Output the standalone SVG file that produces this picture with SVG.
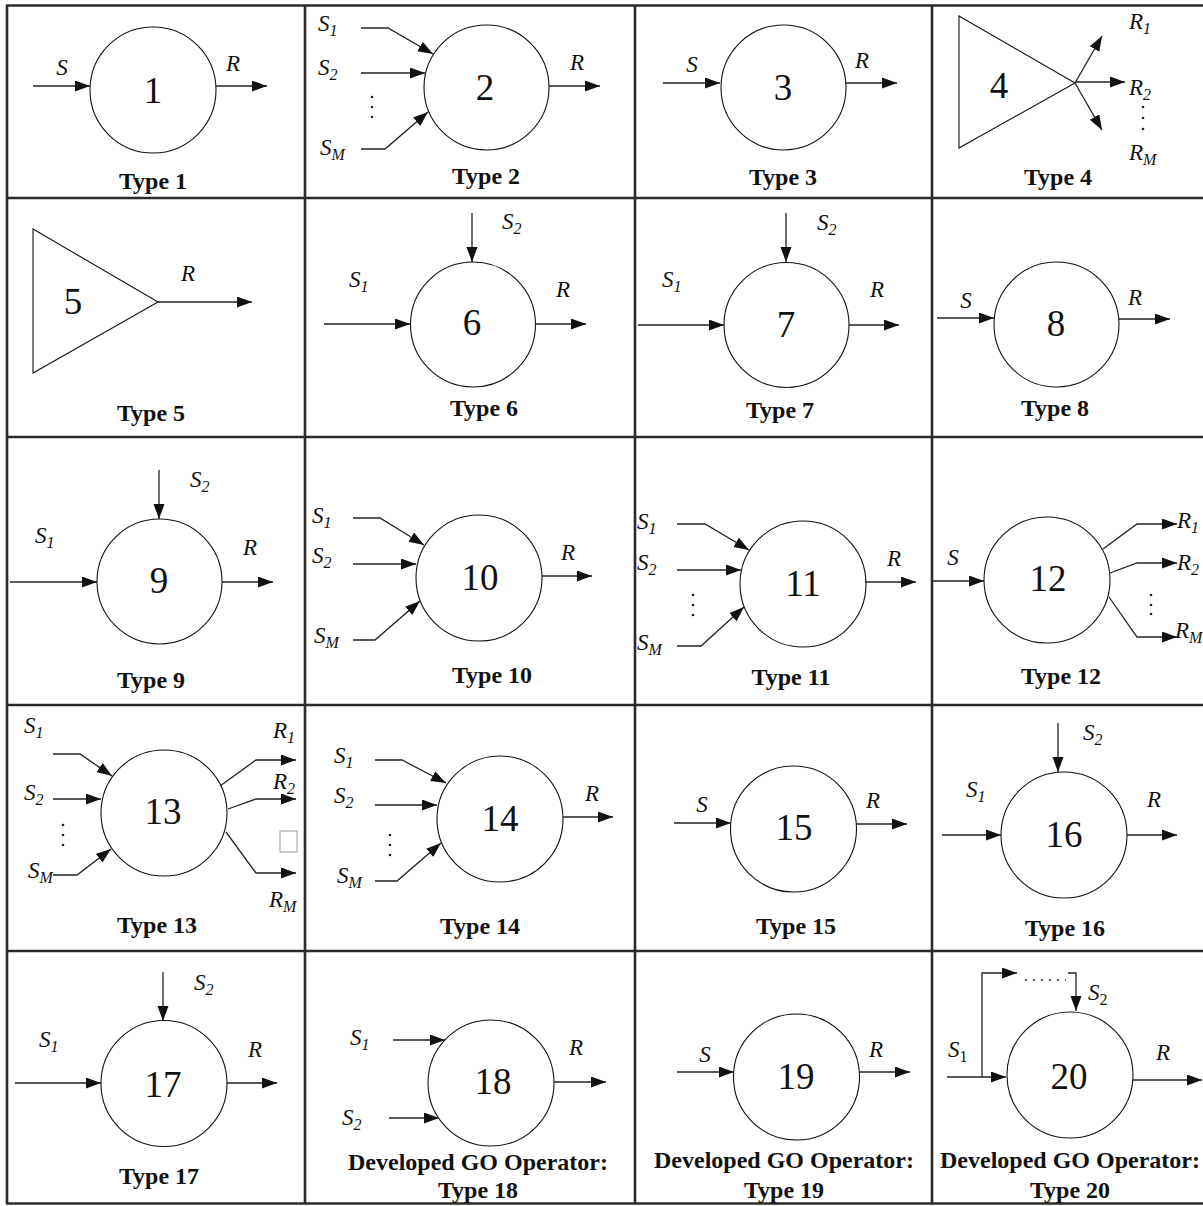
<svg xmlns="http://www.w3.org/2000/svg" width="1203" height="1206" viewBox="0 0 1203 1206">
<style>
.grid{stroke:#2b2b2b;stroke-width:2.6;fill:none}
.node{fill:#fff;stroke:#111;stroke-width:1.1}
.conn{fill:none;stroke:#222;stroke-width:1.3}
.arr{marker-end:url(#ah)}
text{font-family:'Liberation Serif','Times New Roman','DejaVu Serif',serif}
.num{font-size:37px;fill:#111;text-anchor:middle}
.lbl{font-size:23px;font-style:italic;fill:#111}
.mid{text-anchor:middle}
.sub{font-size:16px}
.up{font-style:normal}
.cap{font-size:24px;font-weight:bold;fill:#111;text-anchor:middle}
.dot{fill:#222}
</style>
<defs>
<marker id="ah" markerUnits="userSpaceOnUse" markerWidth="16" markerHeight="12" refX="15" refY="5.5" orient="auto"><path d="M0,0 L15,5.5 L0,11 z" fill="#111"/></marker>
</defs>
<rect width="1203" height="1206" fill="#fff"/>
<g id="grid">
<path class="grid" d="M6,5.5 H1203 M6,198 H1203 M6,437 H1203 M6,705 H1203 M6,951 H1203 M6,1203.5 H1203 M7,5 V1204 M305,5 V1204 M635,5 V1204 M932,5 V1204"/>
</g>
<g id="type1"><circle class="node" cx="153" cy="90" r="63"/><text class="num" x="153" y="103">1</text><text class="cap" x="153" y="189">Type 1</text></g>
<g id="type2"><circle class="node" cx="486.5" cy="87.5" r="62.5"/><text class="num" x="485" y="100">2</text><text class="cap" x="486" y="184">Type 2</text></g>
<g id="type3"><circle class="node" cx="783.5" cy="87.5" r="62.5"/><text class="num" x="783" y="100">3</text><text class="cap" x="783" y="185">Type 3</text></g>
<g id="type4"><polygon class="node" points="959,16 959,148 1075,83"/><text class="num" x="999" y="98">4</text><text class="cap" x="1058" y="185">Type 4</text></g>
<g id="type5"><polygon class="node" points="33,229 33,373 158,302"/><text class="num" x="73" y="314">5</text><text class="cap" x="151" y="421">Type 5</text></g>
<g id="type6"><circle class="node" cx="473" cy="324.5" r="62.5"/><text class="num" x="472" y="335">6</text><text class="cap" x="484" y="416">Type 6</text></g>
<g id="type7"><circle class="node" cx="786.5" cy="325" r="62.5"/><text class="num" x="786" y="337">7</text><text class="cap" x="780" y="418">Type 7</text></g>
<g id="type8"><circle class="node" cx="1056.5" cy="324.5" r="62.5"/><text class="num" x="1056" y="336">8</text><text class="cap" x="1055" y="416">Type 8</text></g>
<g id="type9"><circle class="node" cx="159.5" cy="581.5" r="62.5"/><text class="num" x="159" y="593">9</text><text class="cap" x="151" y="688">Type 9</text></g>
<g id="type10"><circle class="node" cx="479" cy="578" r="63"/><text class="num" x="480" y="590">10</text><text class="cap" x="492" y="683">Type 10</text></g>
<g id="type11"><circle class="node" cx="803" cy="584" r="63"/><text class="num" x="803" y="596">11</text><text class="cap" x="791" y="685">Type 11</text></g>
<g id="type12"><circle class="node" cx="1047" cy="580" r="63"/><text class="num" x="1048" y="591">12</text><text class="cap" x="1061" y="684">Type 12</text></g>
<g id="type13"><circle class="node" cx="164" cy="813" r="63"/><text class="num" x="163" y="824">13</text><rect x="280" y="831" width="17" height="21" fill="none" stroke="#9a9a9a" stroke-width="1"/><text class="cap" x="157" y="933">Type 13</text></g>
<g id="type14"><circle class="node" cx="500" cy="819" r="63"/><text class="num" x="500" y="831">14</text><text class="cap" x="480" y="934">Type 14</text></g>
<g id="type15"><circle class="node" cx="793.5" cy="829" r="63"/><text class="num" x="794" y="840">15</text><text class="cap" x="796" y="934">Type 15</text></g>
<g id="type16"><circle class="node" cx="1064" cy="835" r="63"/><text class="num" x="1064" y="847">16</text><text class="cap" x="1065" y="936">Type 16</text></g>
<g id="type17"><circle class="node" cx="164" cy="1083.5" r="63"/><text class="num" x="163" y="1097">17</text><text class="cap" x="159" y="1184">Type 17</text></g>
<g id="type18"><circle class="node" cx="491" cy="1083" r="63"/><text class="num" x="493" y="1094">18</text><text class="cap" x="478" y="1170">Developed GO Operator:</text><text class="cap" x="478" y="1198">Type 18</text></g>
<g id="type19"><circle class="node" cx="796.5" cy="1077" r="63"/><text class="num" x="796" y="1089">19</text><text class="cap" x="784" y="1168">Developed GO Operator:</text><text class="cap" x="784" y="1198">Type 19</text></g>
<g id="type20"><circle class="node" cx="1070" cy="1075" r="63"/><text class="num" x="1069" y="1089">20</text><text class="cap" x="1070" y="1168">Developed GO Operator:</text><text class="cap" x="1070" y="1198">Type 20</text></g>
<g id="connectors">
<path class="conn arr" d="M33,86 H90"/><path class="conn arr" d="M216,86 H267"/>
<path class="conn arr" d="M361,28 H388 L433,54"/><path class="conn arr" d="M361,73 H425"/><path class="conn arr" d="M361,149 H385 L428,112"/><path class="conn arr" d="M549,86 H600"/>
<path class="conn arr" d="M663,83 H720"/><path class="conn arr" d="M846,83 H897"/>
<path class="conn arr" d="M1075,83 L1102,36"/><path class="conn arr" d="M1075,82 H1125"/><path class="conn arr" d="M1075,83 L1102,130"/>
<path class="conn arr" d="M158,302 H252"/>
<path class="conn arr" d="M472,213 V262"/><path class="conn arr" d="M324,324 H410"/><path class="conn arr" d="M535,324 H586"/>
<path class="conn arr" d="M786,213 V262"/><path class="conn arr" d="M638,325 H724"/><path class="conn arr" d="M849,325 H899"/>
<path class="conn arr" d="M937,318 H994"/><path class="conn arr" d="M1119,319 H1170"/>
<path class="conn arr" d="M159,470 V519"/><path class="conn arr" d="M10,582 H97"/><path class="conn arr" d="M222,582 H273"/>
<path class="conn arr" d="M353,518 H380 L424,545"/><path class="conn arr" d="M353,564 H416"/><path class="conn arr" d="M353,640 H375 L420,601"/><path class="conn arr" d="M542,576 H592"/>
<path class="conn arr" d="M677,524 H705 L749,550"/><path class="conn arr" d="M677,570 H741"/><path class="conn arr" d="M677,646 H701 L744,607"/><path class="conn arr" d="M865,582 H916"/>
<path class="conn arr" d="M932,581 H984"/><path class="conn arr" d="M1103,549 L1137,524 H1177"/><path class="conn arr" d="M1110,573 L1137,563 H1177"/><path class="conn arr" d="M1109,597 L1137,637 H1177"/>
<path class="conn arr" d="M53,754 H80 L112,776"/><path class="conn arr" d="M53,799 H101"/><path class="conn arr" d="M53,875 H77 L111,849"/>
<path class="conn arr" d="M220,786 L256,760 H296"/><path class="conn arr" d="M228,809 L256,799 H296"/><path class="conn arr" d="M226,832 L256,873 H296"/>
<path class="conn arr" d="M375,760 H402 L446,783"/><path class="conn arr" d="M375,805 H437"/><path class="conn arr" d="M375,881 H397 L441,843"/><path class="conn arr" d="M563,817 H613"/>
<path class="conn arr" d="M674,823 H731"/><path class="conn arr" d="M856,824 H907"/>
<path class="conn arr" d="M1058,723 V772"/><path class="conn arr" d="M942,835 H1001"/><path class="conn arr" d="M1127,835 H1177"/>
<path class="conn arr" d="M163,972 V1021"/><path class="conn arr" d="M15,1083 H101"/><path class="conn arr" d="M227,1083 H277"/>
<path class="conn arr" d="M393,1040 H445"/><path class="conn arr" d="M389,1118 H439"/><path class="conn arr" d="M554,1082 H606"/>
<path class="conn arr" d="M677,1072 H734"/><path class="conn arr" d="M859,1072 H910"/>
<path class="conn arr" d="M947,1077 H1006"/><path class="conn arr" d="M982,1077 V973 H1017"/><path class="conn" d="M1025,980 H1066" stroke-dasharray="2 6" stroke-width="1.8"/><path class="conn arr" d="M1068,973 H1076 V1011"/><path class="conn arr" d="M1133,1080 H1202"/>
<g class="dot">
<circle cx="372" cy="97" r="1.3"/><circle cx="372" cy="107" r="1.3"/><circle cx="372" cy="117" r="1.3"/>
<circle cx="1143" cy="107" r="1.3"/><circle cx="1143" cy="118" r="1.3"/><circle cx="1143" cy="129" r="1.3"/>
<circle cx="693" cy="595" r="1.3"/><circle cx="693" cy="605" r="1.3"/><circle cx="693" cy="615" r="1.3"/>
<circle cx="1151" cy="595" r="1.3"/><circle cx="1151" cy="605" r="1.3"/><circle cx="1151" cy="614" r="1.3"/>
<circle cx="63" cy="825" r="1.3"/><circle cx="63" cy="835" r="1.3"/><circle cx="63" cy="845" r="1.3"/>
<circle cx="390" cy="835" r="1.3"/><circle cx="390" cy="845" r="1.3"/><circle cx="390" cy="855" r="1.3"/>
</g>
</g>
<g id="labels">
<text class="lbl mid" x="62" y="75">S</text><text class="lbl mid" x="233" y="71">R</text>
<text class="lbl" x="318" y="31">S<tspan class="sub" dy="5">1</tspan></text><text class="lbl" x="318" y="75">S<tspan class="sub" dy="5">2</tspan></text><text class="lbl" x="320" y="155">S<tspan class="sub" dy="5">M</tspan></text><text class="lbl mid" x="577" y="70">R</text>
<text class="lbl mid" x="692" y="72">S</text><text class="lbl mid" x="862" y="68">R</text>
<text class="lbl" x="1129" y="29">R<tspan class="sub" dy="5">1</tspan></text><text class="lbl" x="1129" y="95">R<tspan class="sub" dy="5">2</tspan></text><text class="lbl" x="1129" y="160">R<tspan class="sub" dy="5">M</tspan></text>
<text class="lbl mid" x="188" y="281">R</text>
<text class="lbl" x="502" y="229">S<tspan class="sub" dy="5">2</tspan></text><text class="lbl" x="349" y="287">S<tspan class="sub" dy="5">1</tspan></text><text class="lbl mid" x="563" y="297">R</text>
<text class="lbl" x="817" y="230">S<tspan class="sub" dy="5">2</tspan></text><text class="lbl" x="662" y="287">S<tspan class="sub" dy="5">1</tspan></text><text class="lbl mid" x="877" y="297">R</text>
<text class="lbl mid" x="966" y="308">S</text><text class="lbl mid" x="1135" y="305">R</text>
<text class="lbl" x="190" y="487">S<tspan class="sub" dy="5">2</tspan></text><text class="lbl" x="35" y="543">S<tspan class="sub" dy="5">1</tspan></text><text class="lbl mid" x="250" y="555">R</text>
<text class="lbl" x="312" y="523">S<tspan class="sub" dy="5">1</tspan></text><text class="lbl" x="312" y="563">S<tspan class="sub" dy="5">2</tspan></text><text class="lbl" x="314" y="643">S<tspan class="sub" dy="5">M</tspan></text><text class="lbl mid" x="568" y="560">R</text>
<text class="lbl" x="637" y="529">S<tspan class="sub" dy="5">1</tspan></text><text class="lbl" x="637" y="570">S<tspan class="sub" dy="5">2</tspan></text><text class="lbl" x="637" y="650">S<tspan class="sub" dy="5">M</tspan></text><text class="lbl mid" x="894" y="566">R</text>
<text class="lbl mid" x="953" y="565">S</text><text class="lbl" x="1177" y="528">R<tspan class="sub" dy="5">1</tspan></text><text class="lbl" x="1177" y="570">R<tspan class="sub" dy="5">2</tspan></text><text class="lbl" x="1175" y="638">R<tspan class="sub" dy="5">M</tspan></text>
<text class="lbl" x="24" y="733">S<tspan class="sub" dy="5">1</tspan></text><text class="lbl" x="24" y="800">S<tspan class="sub" dy="5">2</tspan></text><text class="lbl" x="28" y="878">S<tspan class="sub" dy="5">M</tspan></text>
<text class="lbl" x="273" y="738">R<tspan class="sub" dy="5">1</tspan></text><text class="lbl" x="273" y="789">R<tspan class="sub" dy="5">2</tspan></text><text class="lbl" x="269" y="907">R<tspan class="sub" dy="5">M</tspan></text>
<text class="lbl" x="334" y="763">S<tspan class="sub" dy="5">1</tspan></text><text class="lbl" x="334" y="803">S<tspan class="sub" dy="5">2</tspan></text><text class="lbl" x="337" y="883">S<tspan class="sub" dy="5">M</tspan></text><text class="lbl mid" x="592" y="801">R</text>
<text class="lbl mid" x="702" y="812">S</text><text class="lbl mid" x="873" y="808">R</text>
<text class="lbl" x="1083" y="740">S<tspan class="sub" dy="5">2</tspan></text><text class="lbl" x="966" y="797">S<tspan class="sub" dy="5">1</tspan></text><text class="lbl mid" x="1154" y="807">R</text>
<text class="lbl" x="194" y="990">S<tspan class="sub" dy="5">2</tspan></text><text class="lbl" x="39" y="1047">S<tspan class="sub" dy="5">1</tspan></text><text class="lbl mid" x="255" y="1057">R</text>
<text class="lbl" x="350" y="1045">S<tspan class="sub" dy="5">1</tspan></text><text class="lbl" x="342" y="1125">S<tspan class="sub" dy="5">2</tspan></text><text class="lbl mid" x="576" y="1055">R</text>
<text class="lbl mid" x="705" y="1062">S</text><text class="lbl mid" x="876" y="1057">R</text>
<text class="lbl" x="948" y="1057">S<tspan class="sub up" dy="5">1</tspan></text><text class="lbl" x="1088" y="1000">S<tspan class="sub up" dy="5">2</tspan></text><text class="lbl mid" x="1163" y="1060">R</text>
</g>
</svg>
